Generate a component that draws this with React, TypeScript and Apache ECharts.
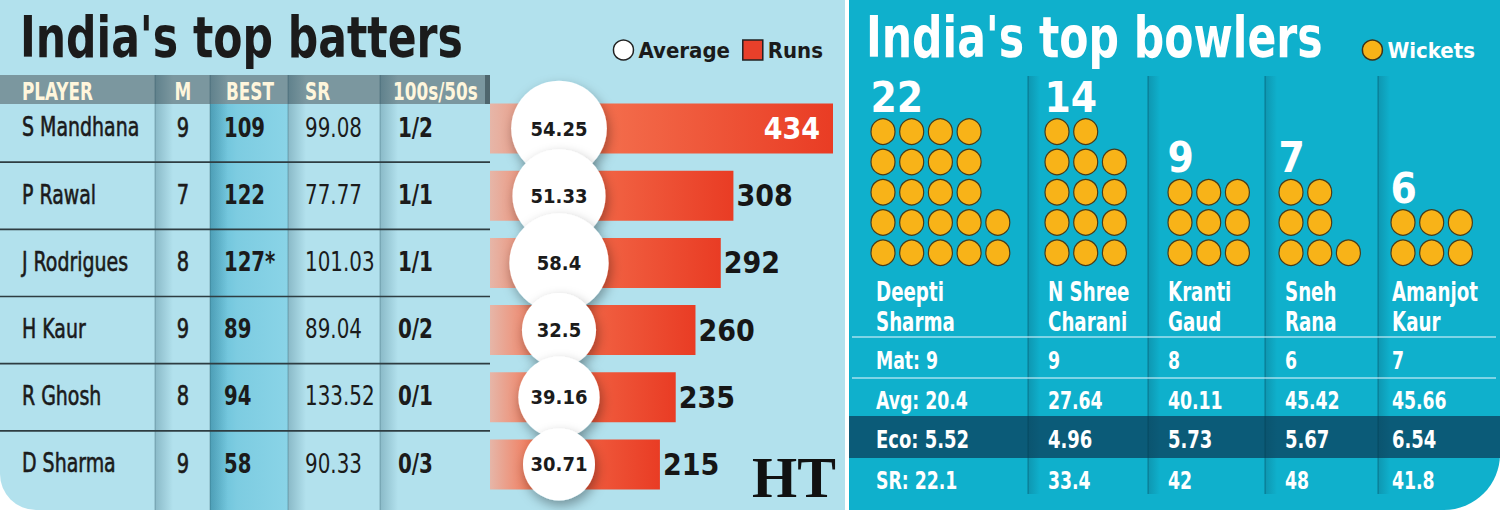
import React, { useEffect, useRef } from 'react';
import * as echarts from 'echarts';

// ---------- batting data ----------
const batters = ['S Mandhana', 'P Rawal', 'J Rodrigues', 'H Kaur', 'R Ghosh', 'D Sharma'];
const matches = [9, 7, 8, 9, 8, 9];
const best = ['109', '122', '127*', '89', '94', '58'];
const strikeRate = ['99.08', '77.77', '101.03', '89.04', '133.52', '90.33'];
const hundredsFifties = ['1/2', '1/1', '1/1', '0/2', '0/1', '0/3'];
const runs = [434, 308, 292, 260, 235, 215];
const averages = [54.25, 51.33, 58.4, 32.5, 39.16, 30.71];
const battingHeaders = ['PLAYER', 'M', 'BEST', 'SR', '100s/50s'];

// ---------- bowling data ----------
const bowlerFirst = ['Deepti', 'N Shree', 'Kranti', 'Sneh', 'Amanjot'];
const bowlerLast = ['Sharma', 'Charani', 'Gaud', 'Rana', 'Kaur'];
const wickets = [22, 14, 9, 7, 6];
const bowlMatches = ['9', '9', '8', '6', '7'];
const bowlAverage = ['20.4', '27.64', '40.11', '45.42', '45.66'];
const economy = ['5.52', '4.96', '5.73', '5.67', '6.54'];
const bowlStrikeRate = ['22.1', '33.4', '42', '48', '41.8'];

const FONT = '"DejaVu Sans Condensed", "DejaVu Sans", sans-serif';
const SERIF = '"Liberation Serif", "DejaVu Serif", serif';

// ---------- layout ----------
const BAR_LEFT = 490;
const BAR_RIGHT = 833;
const ROWS_TOP = 95;
const ROWS_H = 403;
const HEADER_TOP = 75;
const HEADER_BOTTOM = 104;
const colEdges = [155, 210, 288, 380];
const AVG_CX = 559;

const bowlColLeft = [876, 1048, 1168, 1285, 1392];
const bowlColSeps = [1028, 1148, 1265, 1378];
const dotX0 = [883, 1057, 1180, 1291, 1403];
const DOT_DX = 28.7;
const DOT_DY = 30.26;
const DOT_BOTTOM = 267.8;

type TxtOpt = { weight?: string; align?: string; sx?: number; family?: string; stroke?: string; lw?: number };

function txt(x: number, capY: number, text: string, size: number, fill: string, o: TxtOpt = {}) {
  const align = o.align ?? 'left';
  return {
    type: 'text',
    x,
    y: capY + size * 0.068,
    scaleX: o.sx ?? 0.8,
    silent: true,
    z: 5,
    style: {
      text,
      fill,
      fontSize: size,
      fontWeight: o.weight ?? 'normal',
      fontFamily: o.family ?? FONT,
      align,
      verticalAlign: 'middle',
      textAlign: align,
      textVerticalAlign: 'middle',
      stroke: o.stroke,
      lineWidth: o.lw ?? 0,
    },
  };
}

function rect(x: number, y: number, w: number, h: number, fill: any, r?: number[]) {
  return { type: 'rect', silent: true, z: 0, shape: { x, y, width: w, height: h, r: r ?? 0 }, style: { fill } };
}

function hline(x1: number, x2: number, y: number, stroke: string, lw: number) {
  return { type: 'line', silent: true, z: 1, shape: { x1, y1: y, x2, y2: y }, style: { stroke, lineWidth: lw } };
}

function vline(x: number, y1: number, y2: number, stroke: string, lw: number) {
  return { type: 'line', silent: true, z: 1, shape: { x1: x, y1, x2: x, y2 }, style: { stroke, lineWidth: lw } };
}

function shade(x: number, y: number, w: number, h: number, alpha: number) {
  return rect(
    x,
    y,
    w,
    h,
    new echarts.graphic.LinearGradient(0, 0, 1, 0, [
      { offset: 0, color: `rgba(10,60,80,${alpha})` },
      { offset: 1, color: 'rgba(10,60,80,0)' },
    ])
  );
}

function buildGraphics() {
  const g: any[] = [];
  const band = ROWS_H / batters.length;
  const rowY = (i: number) => ROWS_TOP + band * (i + 0.5) - 3;

  // left panel
  g.push(rect(0, 0, 845, 510, '#b2e1ed', [0, 0, 0, 36]));
  g.push(
    rect(
      210,
      HEADER_BOTTOM,
      78,
      510 - HEADER_BOTTOM,
      new echarts.graphic.LinearGradient(0, 0, 1, 0, [
        { offset: 0, color: '#62bdd6' },
        { offset: 0.35, color: '#7dcce1' },
        { offset: 1, color: '#8ad4e7' },
      ])
    )
  );
  g.push(rect(0, HEADER_TOP, 488, HEADER_BOTTOM - HEADER_TOP, '#7b979f'));
  colEdges.forEach((x) => {
    g.push(shade(x, HEADER_TOP, 18, 510 - HEADER_TOP, 0.24));
    g.push(vline(x, HEADER_TOP, 510, 'rgba(20,60,75,0.3)', 1));
  });
  g.push(rect(485, HEADER_TOP, 5, HEADER_BOTTOM - HEADER_TOP, '#4f666d'));
  for (let k = 1; k < batters.length; k++) {
    g.push(hline(0, BAR_LEFT, ROWS_TOP + band * k, '#2e3d42', 1.6));
  }

  // right panel
  g.push(rect(849, 0, 651, 510, '#0fb0cc', [0, 0, 56, 0]));
  g.push(rect(849, 416, 651, 42, '#0b5b78'));
  bowlColSeps.forEach((x) => {
    g.push(shade(x, 76, 12, 418, 0.22));
    g.push(vline(x, 76, 494, 'rgba(0,55,75,0.4)', 1.1));
  });
  [337, 378].forEach((y) => g.push(hline(852, 1496, y, 'rgba(215,242,250,0.75)', 1.4)));

  // titles
  g.push(txt(20, 32.5, "India's top batters", 57, '#1b1b1b', { weight: 'bold', sx: 0.83 }));
  g.push(txt(866, 32.5, "India's top bowlers", 57, '#ffffff', { weight: 'bold', sx: 0.83 }));

  // batting table header
  const hy = 90.5;
  const headerCream = '#fff6dc';
  g.push(txt(22, hy, battingHeaders[0], 24, headerCream, { weight: 'bold', sx: 0.78 }));
  g.push(txt(183, hy, battingHeaders[1], 24, headerCream, { weight: 'bold', sx: 0.78, align: 'center' }));
  g.push(txt(226, hy, battingHeaders[2], 24, headerCream, { weight: 'bold', sx: 0.78 }));
  g.push(txt(305, hy, battingHeaders[3], 24, headerCream, { weight: 'bold', sx: 0.78 }));
  g.push(txt(393, hy, battingHeaders[4], 24, headerCream, { weight: 'bold', sx: 0.78 }));

  // batting table rows
  const ink = '#1b1b1b';
  batters.forEach((name, i) => {
    const y = rowY(i);
    g.push(txt(22, y, name, 27, ink, { sx: 0.78, stroke: ink, lw: 0.6 }));
    g.push(txt(183, y, String(matches[i]), 27, ink, { sx: 0.8, align: 'center', stroke: ink, lw: 0.6 }));
    g.push(txt(224, y, best[i], 27, ink, { weight: 'bold', sx: 0.81 }));
    g.push(txt(305, y, strikeRate[i], 27, ink, { sx: 0.82 }));
    g.push(txt(398, y, hundredsFifties[i], 27, ink, { weight: 'bold', sx: 0.82 }));
  });

  // bowling names and stats
  bowlColLeft.forEach((x, b) => {
    g.push(txt(x, 290, bowlerFirst[b], 26, '#ffffff', { weight: 'bold', sx: 0.78 }));
    g.push(txt(x, 320, bowlerLast[b], 26, '#ffffff', { weight: 'bold', sx: 0.78 }));
  });
  const statRows = [
    { key: 'Mat', vals: bowlMatches, y: 359 },
    { key: 'Avg', vals: bowlAverage, y: 399.5 },
    { key: 'Eco', vals: economy, y: 437 },
    { key: 'SR', vals: bowlStrikeRate, y: 479.5 },
  ];
  statRows.forEach((row) => {
    const size = row.key === 'Eco' ? 25 : 24;
    bowlColLeft.forEach((x, b) => {
      const t = b === 0 ? `${row.key}: ${row.vals[b]}` : row.vals[b];
      g.push(txt(x, row.y, t, size, '#ffffff', { weight: 'bold', sx: 0.8 }));
    });
  });

  // masthead mark
  g.push(txt(794, 474, 'HT', 58, '#111111', { weight: 'bold', sx: 1.0, align: 'center', family: SERIF }));

  return g;
}

function dotRows(n: number) {
  const rows = Math.min(5, Math.ceil(n / 3));
  const base = Math.floor(n / rows);
  const extra = n % rows;
  const counts: number[] = [];
  for (let r = 0; r < rows; r++) counts.push(base + (r < extra ? 1 : 0));
  return counts;
}

function wicketDots(n: number) {
  const counts = dotRows(n);
  const pts: any[] = [];
  counts.forEach((count, r) => {
    for (let c = 0; c < count; c++) {
      const p = [c + 0.5, r + 0.5];
      pts.push(r === counts.length - 1 && c === 0 ? { value: p, label: { show: true } } : p);
    }
  });
  return pts;
}

function buildOption() {
  const maxRuns = Math.max(...runs);
  const grids: any[] = [
    { left: BAR_LEFT, top: ROWS_TOP, width: BAR_RIGHT - BAR_LEFT, height: ROWS_H },
    { left: AVG_CX - 50, top: ROWS_TOP, width: 100, height: ROWS_H },
  ];
  const xAxes: any[] = [
    { gridIndex: 0, type: 'value', min: 0, max: maxRuns, show: false },
    { gridIndex: 1, type: 'category', data: ['Average'], show: false },
  ];
  const yAxes: any[] = [
    { gridIndex: 0, type: 'category', data: batters, inverse: true, show: false },
    { gridIndex: 1, type: 'category', data: batters, inverse: true, show: false },
  ];
  wickets.forEach((n, b) => {
    const cols = Math.max(...dotRows(n));
    grids.push({
      left: dotX0[b] - DOT_DX / 2,
      top: DOT_BOTTOM - 5 * DOT_DY,
      width: cols * DOT_DX,
      height: 5 * DOT_DY,
    });
    xAxes.push({ gridIndex: 2 + b, type: 'value', min: 0, max: cols, show: false });
    yAxes.push({ gridIndex: 2 + b, type: 'value', min: 0, max: 5, show: false });
  });

  const series: any[] = [
    {
      type: 'bar',
      name: 'Runs',
      xAxisIndex: 0,
      yAxisIndex: 0,
      barWidth: 50,
      data: runs.map((v) =>
        v === maxRuns ? { value: v, label: { position: 'insideRight', color: '#ffffff', distance: 13 } } : v
      ),
      itemStyle: {
        color: new echarts.graphic.LinearGradient(0, 0, 1, 0, [
          { offset: 0, color: '#e6b6a8' },
          { offset: 0.28, color: '#f4714f' },
          { offset: 1, color: '#e93c24' },
        ]),
      },
      label: {
        show: true,
        position: 'right',
        distance: 3,
        fontSize: 30,
        fontWeight: 'bold',
        fontFamily: FONT,
        color: '#161616',
      },
    },
    {
      type: 'scatter',
      name: 'Average',
      xAxisIndex: 1,
      yAxisIndex: 1,
      data: averages.map((a, i) => [0, i, a]),
      symbol: 'circle',
      symbolSize: (v: number[]) => 13 * Math.sqrt(v[2]),
      itemStyle: {
        color: '#ffffff',
        opacity: 1,
        shadowBlur: 12,
        shadowColor: 'rgba(0,0,0,0.35)',
        shadowOffsetX: 2,
        shadowOffsetY: 5,
      },
      label: {
        show: true,
        position: 'inside',
        formatter: (p: any) => String(p.value[2]),
        fontSize: 20,
        fontWeight: 'bold',
        fontFamily: FONT,
        color: '#1b1b1b',
      },
    },
  ];

  wickets.forEach((n, b) => {
    series.push({
      type: 'scatter',
      name: 'Wickets',
      xAxisIndex: 2 + b,
      yAxisIndex: 2 + b,
      data: wicketDots(n),
      symbol: 'circle',
      symbolSize: [24, 25.5],
      itemStyle: { color: '#f8b318', opacity: 1, borderColor: '#4a3b18', borderWidth: 1.2 },
      label: {
        show: false,
        formatter: String(n),
        position: [0, 0],
        align: 'left',
        verticalAlign: 'bottom',
        fontSize: 42,
        lineHeight: 42,
        fontWeight: 'bold',
        fontFamily: FONT,
        color: '#ffffff',
      },
    });
  });

  return {
    animation: false,
    backgroundColor: '#ffffff',
    graphic: { elements: buildGraphics() },
    legend: [
      {
        right: 1500 - 828,
        top: 34,
        itemWidth: 20,
        itemHeight: 20,
        itemGap: 12,
        selectedMode: false,
        data: [
          {
            name: 'Average',
            icon: 'circle',
            itemStyle: { color: '#ffffff', opacity: 1, borderColor: '#222222', borderWidth: 1.5, shadowBlur: 0 },
          },
          {
            name: 'Runs',
            icon: 'rect',
            itemStyle: { color: '#e8402a', borderColor: '#222222', borderWidth: 1.5, shadowBlur: 0 },
          },
        ],
        textStyle: { fontSize: 22, fontWeight: 'bold', fontFamily: FONT, color: '#1b1b1b' },
      },
      {
        right: 20,
        top: 34,
        itemWidth: 20,
        itemHeight: 20,
        selectedMode: false,
        data: [
          {
            name: 'Wickets',
            icon: 'circle',
            itemStyle: { color: '#f8b318', opacity: 1, borderColor: '#3d3218', borderWidth: 1.5 },
          },
        ],
        textStyle: { fontSize: 22, fontWeight: 'bold', fontFamily: FONT, color: '#ffffff' },
      },
    ],
    grid: grids,
    xAxis: xAxes,
    yAxis: yAxes,
    series,
  };
}

export default function App() {
  const ref = useRef<HTMLDivElement>(null);
  useEffect(() => {
    if (!ref.current) return;
    const chart = echarts.init(ref.current, undefined, { renderer: 'svg' });
    chart.setOption(buildOption() as any);
    return () => chart.dispose();
  }, []);
  return <div ref={ref} style={{ position: 'absolute', left: 0, top: 0, width: 1500, height: 510 }} />;
}
